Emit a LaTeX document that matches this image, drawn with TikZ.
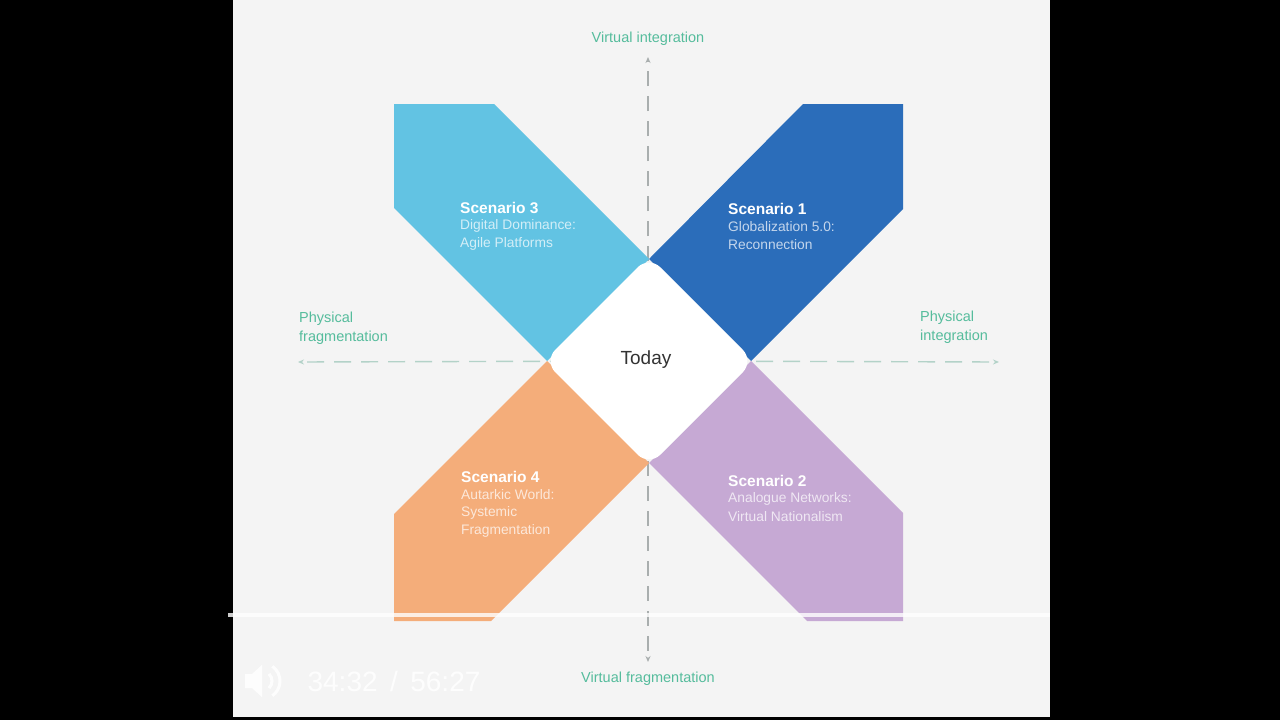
\documentclass[tikz,border=0pt]{standalone}
\usepackage{fontspec}
\setmainfont{Liberation Sans}
\usetikzlibrary{arrows.meta}
\definecolor{panel}{HTML}{F4F4F4}
\definecolor{sthree}{HTML}{62C3E3}
\definecolor{sone}{HTML}{2B6DBA}
\definecolor{sfour}{HTML}{F4AD7A}
\definecolor{stwo}{HTML}{C6A9D4}
\definecolor{axisgreen}{HTML}{55BC9C}
\definecolor{vdash}{HTML}{A9AEAE}
\definecolor{hdash}{HTML}{B3D2C8}
\definecolor{todaytxt}{HTML}{333333}
\tikzset{
  band/.style={draw=none},
  ttl/.style={anchor=west, text=white, font=\fontsize{15.5}{18}\selectfont\bfseries, inner sep=0pt},
  sub/.style={anchor=west, font=\fontsize{13.8}{18}\selectfont, inner sep=0pt},
  axislabel/.style={text=axisgreen, font=\fontsize{14.5}{19}\selectfont, inner sep=0pt},
  vaxis/.style={draw=vdash, line width=1.2pt, dash pattern=on 15pt off 10pt, -{Stealth[length=6pt,width=5pt]}},
  haxis/.style={draw=hdash, line width=1.4pt, dash pattern=on 17pt off 10pt, -{Stealth[length=6pt,width=5pt]}},
}
\begin{document}
\begin{tikzpicture}[x=1pt,y=-1pt]
\useasboundingbox (0,0) rectangle (1280,720);
\fill[black] (0,0) rectangle (1280,720);
\fill[panel] (233,0) rectangle (1050,717);

% axes
\coordinate (ctr) at (648,361);
\coordinate (vtop) at (648,57);
\coordinate (vbot) at (648,662);
\coordinate (hleft) at (298,362);
\coordinate (hright) at (999,362);
\draw[vaxis] (ctr) -- (vtop);
\draw[vaxis] (ctr) -- (vbot);
\draw[haxis] (ctr) -- (hleft);
\draw[haxis] (ctr) -- (hright);

% bands
\fill[sthree] (394,104) -- (494,104) -- (649,259) -- (547,361) -- (394,208) -- cycle;
\fill[sone] (803,104) -- (903,104) -- (903,209) -- (751,361) -- (649,259) -- cycle;
\fill[sfour] (394,514) -- (547,361) -- (649,463) -- (491,621) -- (394,621) -- cycle;
\fill[stwo] (903,513) -- (751,361) -- (649,463) -- (807,621) -- (903,621) -- cycle;

% centre
\fill[white, rounded corners=16pt] (649,256) -- (754,361) -- (649,466) -- (544,361) -- cycle;
\node[text=todaytxt, font=\fontsize{19}{22}\selectfont] (today) at (646,360) {Today};

% band texts
\node[ttl] (s3) at (460,208) {Scenario 3};
\node[sub, text=white!72!sthree] (s3a) at (460,226) {Digital Dominance:};
\node[sub, text=white!72!sthree] (s3b) at (460,244) {Agile Platforms};

\node[ttl] (s1) at (728,209) {Scenario 1};
\node[sub, text=white!72!sone] (s1a) at (728,227) {Globalization 5.0:};
\node[sub, text=white!72!sone] (s1b) at (728,245) {Reconnection};

\node[ttl] (s4) at (461,477) {Scenario 4};
\node[sub, text=white!72!sfour] (s4a) at (461,495) {Autarkic World:};
\node[sub, text=white!72!sfour] (s4b) at (461,513) {Systemic};
\node[sub, text=white!72!sfour] (s4c) at (461,531) {Fragmentation};

\node[ttl] (s2) at (728,481) {Scenario 2};
\node[sub, text=white!72!stwo] (s2a) at (728,499) {Analogue Networks:};
\node[sub, text=white!72!stwo] (s2b) at (728,517) {Virtual Nationalism};

% axis labels
\node[axislabel] (vi) at (648,39) {Virtual integration};
\node[axislabel] (vf) at (648,679) {Virtual fragmentation};
\node[axislabel, anchor=west] (pf1) at (299,319) {Physical};
\node[axislabel, anchor=west] (pf2) at (299,338) {fragmentation};
\node[axislabel, anchor=west] (pi1) at (920,318) {Physical};
\node[axislabel, anchor=west] (pi2) at (920,337) {integration};

% video player overlay
\draw[white, opacity=0.8, line width=4pt] (228,615) -- (1050,615);
\fill[white, opacity=0.9] (245,674) -- (252,674) -- (262,665) -- (262,697) -- (252,688) -- (245,688) -- cycle;
\coordinate (spk) at (262,681);
\draw[white, opacity=0.9, line width=3pt] (spk) ++(45:10pt) arc[start angle=45, end angle=-45, radius=10pt];
\draw[white, opacity=0.9, line width=3pt] (spk) ++(55:18pt) arc[start angle=55, end angle=-55, radius=18pt];
\node[text=white, opacity=0.85, font=\fontsize{28}{30}\selectfont, inner sep=0pt] (time) at (394,681) {34:32\, /\, 56:27};
\end{tikzpicture}
\end{document}
